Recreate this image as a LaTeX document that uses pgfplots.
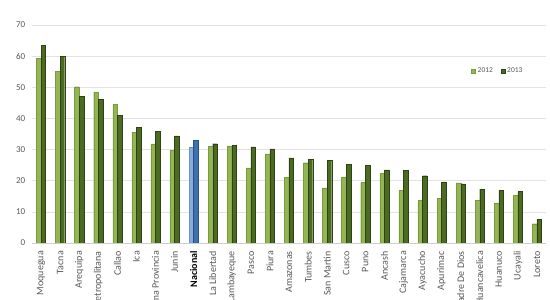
\documentclass[border=0pt]{standalone}
\usepackage{pgfplots}
\pgfplotsset{compat=1.18}
\usepackage{pgfplotstable}
\usepackage{fontspec}
\setmainfont{Carlito}
\definecolor{lg}{HTML}{94B553}
\definecolor{lgd}{HTML}{7A9A40}
\definecolor{dg}{HTML}{4B6A22}
\definecolor{dgd}{HTML}{2E4212}
\definecolor{lb}{HTML}{85ACDC}
\definecolor{lbd}{HTML}{6A93C8}
\definecolor{db}{HTML}{3F6FAE}
\definecolor{dbd}{HTML}{2A5088}
\definecolor{txt}{HTML}{595959}
\definecolor{grd}{HTML}{E2E2E2}
\pgfplotstableread{
x y12 y13
0 59.2 63.5
1 55.2 60.0
2 50.2 47.1
3 48.5 46.2
4 44.6 41.1
5 35.6 37.2
6 31.8 35.9
7 29.8 34.4
9 31.0 31.9
10 31.2 31.3
11 24.1 30.9
12 28.6 30.2
13 21.0 27.3
14 25.8 26.9
15 17.7 26.6
16 21.2 25.2
17 19.4 25.0
18 22.3 23.5
19 16.9 23.3
20 13.6 21.6
21 14.3 19.6
22 19.3 19.0
23 13.6 17.3
24 12.9 17.0
25 15.3 16.5
26 6.2 7.5
}\regiones
\pgfplotstableread{
x y12 y13
8 30.8 32.9
}\nacional
\begin{document}
\begin{tikzpicture}
\begin{scope}
\clip (0,0) rectangle (550pt,300pt);
\begin{axis}[
  at={(31.5pt,57pt)}, anchor=south west,
  scale only axis, width=515pt, height=218pt,
  xmin=-0.5, xmax=26.5, ymin=0, ymax=70,
  ytick={0,10,...,70},
  xtick={0,...,26},
  xticklabels={Moquegua,Tacna,Arequipa,Lima Metropolitana,Callao,Ica,Lima Provincia,Junin,\textbf{\color{black}Nacional},La Libertad,Lambayeque,Pasco,Piura,Amazonas,Tumbes,San Martin,Cusco,Puno,Ancash,Cajamarca,Ayacucho,Apurimac,Madre De Dios,Huancavelica,Huanuco,Ucayali,Loreto},
  xticklabel style={rotate=90, anchor=east, font=\fontsize{10}{11}\selectfont, text=txt, inner sep=0pt, xshift=-8pt},
  yticklabel style={font=\fontsize{9}{10}\selectfont, text=txt, inner sep=0pt, xshift=-6pt},
  /pgf/number format/assume math mode=true,
  major tick length=0pt,
  ymajorgrids, grid style={grd, line width=0.6pt},
  axis x line*=bottom, axis y line*=left,
  y axis line style={draw=none},
  x axis line style={draw=grd!80!gray, line width=0.8pt},
  ybar, bar width=0.24,
  legend style={at={(0.848,0.79)}, anchor=west, draw=none, fill=none, font=\fontsize{7.5}{8}\selectfont, text=txt, legend columns=2, /tikz/every even column/.append style={column sep=6pt}},
  legend image code/.code={\fill[#1] (0pt,-2pt) rectangle (4pt,2pt);},
]
\addplot[fill=lg, draw=lgd, line width=0.3pt, bar shift=-0.12] table[x=x, y=y12] {\regiones};
\addlegendentry{2012}
\addplot[fill=dg, draw=dgd, line width=0.3pt, bar shift=0.12] table[x=x, y=y13] {\regiones};
\addlegendentry{2013}
\addplot[fill=lb, draw=lbd, line width=0.3pt, bar shift=-0.12, forget plot] table[x=x, y=y12] {\nacional};
\addplot[fill=db, draw=dbd, line width=0.3pt, bar shift=0.12, forget plot] table[x=x, y=y13] {\nacional};
\end{axis}
\end{scope}
\pgfresetboundingbox
\useasboundingbox (0,0) rectangle (550pt,300pt);
\end{tikzpicture}
\end{document}
